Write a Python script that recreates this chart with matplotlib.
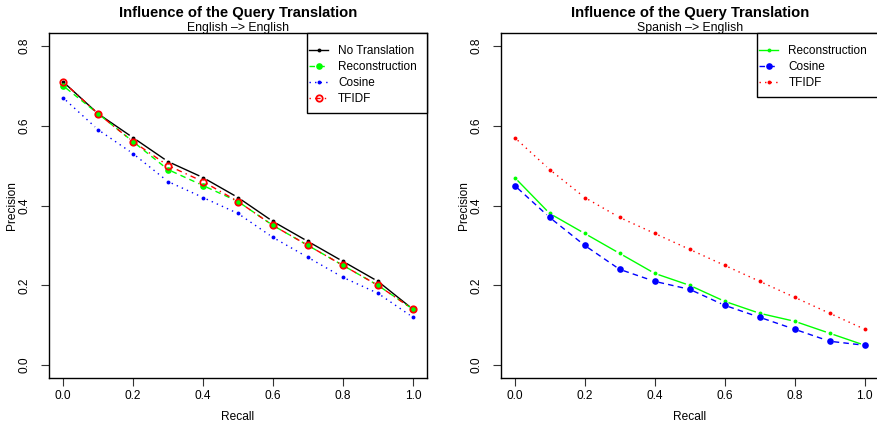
import matplotlib
matplotlib.use("Agg")
import matplotlib.pyplot as plt
from matplotlib.patches import Rectangle
import numpy as np

plt.rcParams['font.family'] = ['Liberation Sans', 'DejaVu Sans']

recall = [0.0, 0.1, 0.2, 0.3, 0.4, 0.5, 0.6, 0.7, 0.8, 0.9, 1.0]

# English -> English
en_no_translation = [0.71, 0.63, 0.57, 0.51, 0.47, 0.42, 0.36, 0.31, 0.26, 0.21, 0.14]
en_reconstruction = [0.70, 0.63, 0.56, 0.49, 0.45, 0.41, 0.35, 0.30, 0.25, 0.20, 0.14]
en_cosine = [0.67, 0.59, 0.53, 0.46, 0.42, 0.38, 0.32, 0.27, 0.22, 0.18, 0.12]
en_tfidf = [0.71, 0.63, 0.56, 0.50, 0.46, 0.41, 0.35, 0.30, 0.25, 0.20, 0.14]

# Spanish -> English
es_reconstruction = [0.47, 0.38, 0.33, 0.28, 0.23, 0.20, 0.16, 0.13, 0.11, 0.08, 0.05]
es_cosine = [0.45, 0.37, 0.30, 0.24, 0.21, 0.19, 0.15, 0.12, 0.09, 0.06, 0.05]
es_tfidf = [0.57, 0.49, 0.42, 0.37, 0.33, 0.29, 0.25, 0.21, 0.17, 0.13, 0.09]

title = "Influence of the Query Translation"
subtitles = ["English \u2013> English", "Spanish \u2013> English"]
x_label = "Recall"
y_label = "Precision"
xticks = [0.0, 0.2, 0.4, 0.6, 0.8, 1.0]
yticks = [0.0, 0.2, 0.4, 0.6, 0.8]

GREEN, BLUE, RED, BLACK = '#00ff00', '#0000ff', '#ff0000', '#000000'
DASHED = (0, (4, 3))
DOTTED = (0, (1, 3))
DOTDASH = (0, (1, 3, 4, 3))

W, H = 877, 424
AXW, AXH = 378, 345
fig = plt.figure(figsize=(W / 100, H / 100), dpi=100)

def make_ax(x0):
    return fig.add_axes([x0 / W, 1 - 378 / H, AXW / W, AXH / H])

ax1 = make_ax(49)
ax2 = make_ax(500.7)

for ax in (ax1, ax2):
    ax.set_xlim(-0.04, 1.04)
    ax.set_ylim(-0.032, 0.832)

GAP = 4.0  # pixel gap between line and points (R type="b")

def series(ax, x, y, color, ls, marker_kw):
    pts = ax.transData.transform(np.column_stack([x, y]))
    inv = ax.transData.inverted()
    for p, q in zip(pts[:-1], pts[1:]):
        d = q - p
        L = np.hypot(*d)
        if L <= 2 * GAP:
            continue
        u = d / L
        a = inv.transform(p + u * GAP)
        b = inv.transform(q - u * GAP)
        ax.plot([a[0], b[0]], [a[1], b[1]], color=color, ls=ls, lw=1, zorder=2,
                solid_capstyle='butt', dash_capstyle='butt')
    ax.plot(x, y, ls='none', color=color, zorder=3, **marker_kw)

dot = dict(marker='o', ms=2.8, mew=0)
big = dict(marker='o', ms=4.8, mew=0)
ring = dict(marker='o', ms=4.6, mfc='none', mew=1.3)

left_series = [
    ("No Translation", en_no_translation, BLACK, '-', dot),
    ("Reconstruction", en_reconstruction, GREEN, DASHED, big),
    ("Cosine", en_cosine, BLUE, DOTTED, dot),
    ("TFIDF", en_tfidf, RED, DOTDASH, ring),
]
right_series = [
    ("Reconstruction", es_reconstruction, GREEN, '-', dot),
    ("Cosine", es_cosine, BLUE, DASHED, big),
    ("TFIDF", es_tfidf, RED, DOTTED, dot),
]

def legend(ax, entries, box_left, box_bottom):
    fx = lambda px: px / AXW
    fy = lambda py: 1 - py / AXH
    ax.add_patch(Rectangle((fx(box_left), fy(box_bottom)), 1 - fx(box_left),
                           fy(0) - fy(box_bottom), transform=ax.transAxes,
                           facecolor='white', edgecolor='black', lw=1.0, zorder=5,
                           clip_on=False))
    for i, (lab, _, color, ls, mk) in enumerate(entries):
        yy = fy(17 + 15.9 * i)
        ax.plot([fx(box_left + 2), fx(box_left + 21)], [yy, yy], transform=ax.transAxes,
                color=color, ls=ls, lw=1, zorder=6, clip_on=False)
        ax.plot([fx(box_left + 11.5)], [yy], transform=ax.transAxes, ls='none',
                color=color, zorder=7, clip_on=False, **mk)
        ax.text(fx(box_left + 31), yy, lab, transform=ax.transAxes, ha='left',
                va='center_baseline', fontsize=8.5, zorder=7)

for ax, entries, sub, lb, bb in [(ax1, left_series, subtitles[0], 258, 80),
                                 (ax2, right_series, subtitles[1], 256.6, 64.3)]:
    for lab, vals, color, ls, mk in entries:
        series(ax, recall, vals, color, ls, mk)
    ax.set_xticks(xticks)
    ax.set_yticks(yticks)
    ax.set_xticklabels([f"{t:.1f}" for t in xticks], fontsize=8.6)
    ax.set_yticklabels([f"{t:.1f}" for t in yticks], fontsize=8.6, rotation=90, va='center')
    ax.tick_params(direction='out', length=5.5, width=0.8, color='#333333')
    ax.tick_params(axis='x', pad=3)
    ax.tick_params(axis='y', pad=7.5)
    for s in ax.spines.values():
        s.set_linewidth(1.0)
        s.set_color('black')
    ax.text(0.5, (378 - 419.7) / AXH - 0.0, x_label, transform=ax.transAxes,
            ha='center', va='baseline', fontsize=8.6)
    ax.text(-34 / AXW, 0.5, y_label, transform=ax.transAxes, ha='center',
            va='baseline', rotation=90, rotation_mode='anchor', fontsize=8.6)
    ax.text(0.5, 1 + (33 - 17.3) / AXH, title, transform=ax.transAxes, ha='center',
            va='baseline', fontsize=10.6, fontweight='bold')
    ax.text(0.5, 1 + (33 - 30.7) / AXH, sub, transform=ax.transAxes, ha='center',
            va='baseline', fontsize=8.8)
    legend(ax, entries, lb, bb)

fig.savefig("out.png", dpi=100)
